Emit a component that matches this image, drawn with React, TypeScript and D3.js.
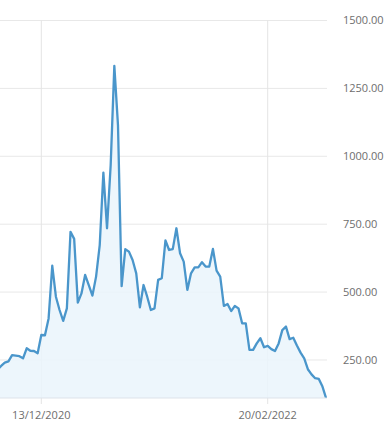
import React from "react";
import * as d3 from "d3";

const startDate = "2020-09-20";
const values: number[] = [
  215, 228, 240, 245, 268, 266, 264, 256, 293, 284,
  283, 275, 342, 341, 403, 597, 483, 434, 394, 440,
  722, 696, 461, 495, 563, 526, 487, 557, 673, 940,
  735, 968, 1333, 1115, 522, 658, 649, 618, 569, 444,
  526, 483, 434, 440, 545, 551, 690, 655, 658, 735,
  643, 612, 508, 569, 591, 591, 610, 594, 594, 659,
  579, 557, 449, 456, 430, 449, 440, 385, 385, 287,
  287, 311, 330, 297, 302, 290, 283, 311, 360, 373,
  327, 332, 303, 277, 256, 216, 197, 183, 180, 152,
  109,
];
const yTicks: number[] = [250, 500, 750, 1000, 1250, 1500];
const xTickDates: string[] = ["2020-12-13", "2022-02-20"];
const xTickLabels: string[] = ["13/12/2020", "20/02/2022"];

const parse = d3.timeParse("%Y-%m-%d");
const t0 = parse(startDate) as Date;
const data = values.map((v, i) => ({ date: d3.timeWeek.offset(t0, i), value: v }));

export default function App() {
  const W = 390;
  const H = 435;
  const plotRight = 327;
  const plotBottom = 398;
  const tickA = parse(xTickDates[0]) as Date;
  const tickB = parse(xTickDates[1]) as Date;
  const x = d3.scaleTime().domain([tickA, tickB]).range([41.3, 267.7]);
  const y = d3.scaleLinear().domain([110, 1500]).range([plotBottom, 20.5]);

  const area = d3
    .area<{ date: Date; value: number }>()
    .x((d) => x(d.date))
    .y0(plotBottom)
    .y1((d) => y(d.value));
  const line = d3
    .line<{ date: Date; value: number }>()
    .x((d) => x(d.date))
    .y((d) => y(d.value));

  const font = "'Segoe UI', 'Open Sans', sans-serif";

  return (
    <svg
      width={W}
      height={H}
      style={{ position: "absolute", left: 0, top: 0, display: "block", background: "#fff" }}
    >
      <defs>
        <clipPath id="plot">
          <rect x={0} y={0} width={plotRight} height={plotBottom} />
        </clipPath>
      </defs>
      {yTicks.map((t) => (
        <line key={t} x1={0} x2={plotRight} y1={y(t)} y2={y(t)} stroke="#e8e8e8" strokeWidth={1} />
      ))}
      {xTickDates.map((d) => {
        const xv = x(parse(d) as Date);
        return (
          <line key={d} x1={xv} x2={xv} y1={y(1500)} y2={plotBottom + 6} stroke="#e4e4e4" strokeWidth={1} />
        );
      })}
      <g clipPath="url(#plot)">
        <path d={area(data) || ""} fill="#eaf4fc" fillOpacity={0.85} />
        <path d={line(data) || ""} fill="none" stroke="#4a96cb" strokeWidth={2.3} strokeLinejoin="round" />
      </g>
      <line x1={0} x2={plotRight} y1={plotBottom} y2={plotBottom} stroke="#dde3ea" strokeWidth={1} />
      {yTicks.map((t) => (
        <text key={t} x={343} y={y(t)} dy="0.35em" fontSize={11} fill="#6e6e6e" fontFamily={font}>
          {d3.format(".2f")(t)}
        </text>
      ))}
      {xTickDates.map((d, i) => (
        <text
          key={d}
          x={x(parse(d) as Date)}
          y={419}
          textAnchor="middle"
          fontSize={11}
          fill="#6e6e6e"
          fontFamily={font}
        >
          {xTickLabels[i]}
        </text>
      ))}
    </svg>
  );
}
